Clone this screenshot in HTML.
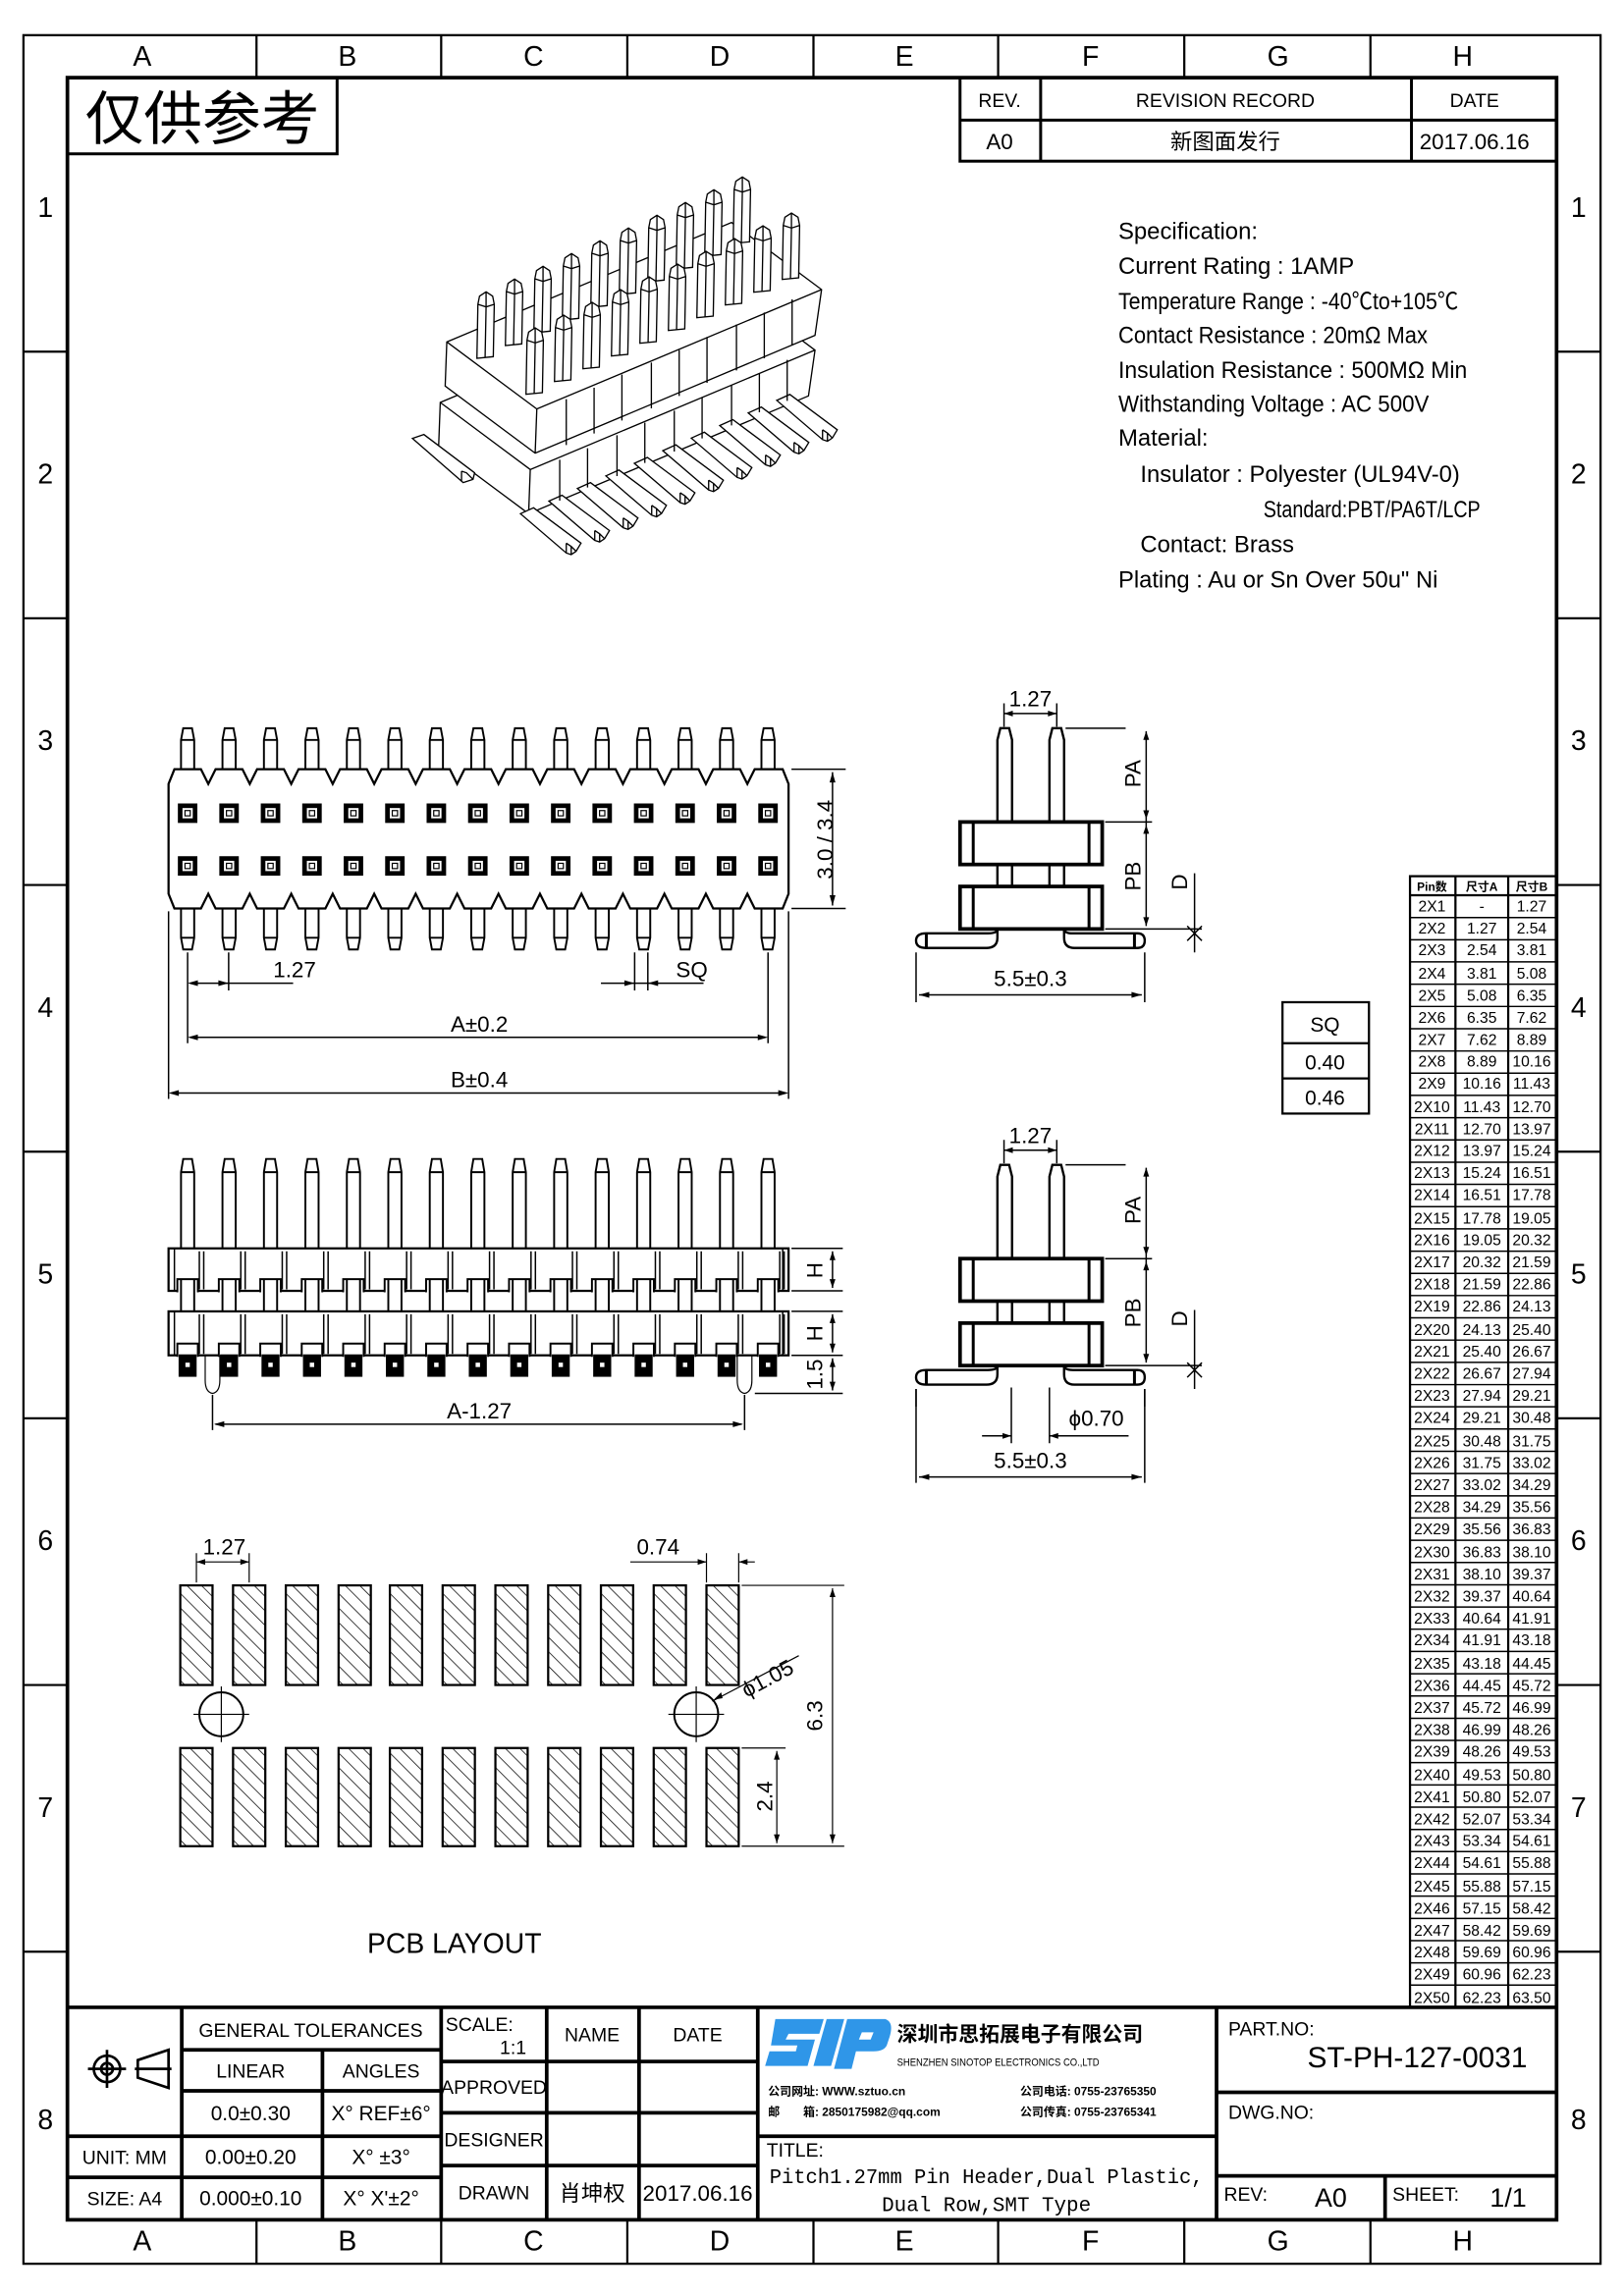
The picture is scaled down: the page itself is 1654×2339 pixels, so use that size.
<!DOCTYPE html>
<html><head><meta charset="utf-8">
<style>
html,body{margin:0;padding:0;background:#fff;}
svg{display:block;}
text{font-family:"Liberation Sans Narrow","Liberation Sans","Noto Sans CJK SC",sans-serif;fill:#000;}
.cj{font-family:"Liberation Sans","Noto Sans CJK SC",sans-serif;}
.mono{font-family:"Liberation Mono","Noto Sans CJK SC",monospace;}
</style></head>
<body>
<svg width="1654" height="2339" viewBox="0 0 1108 1567" preserveAspectRatio="none" xmlns="http://www.w3.org/2000/svg">
<defs>
<pattern id="hatch" patternUnits="userSpaceOnUse" width="7" height="7" patternTransform="rotate(-45)">
<line x1="0" y1="0" x2="0" y2="7" stroke="#000" stroke-width="1"/>
</pattern>
<g id="f1" fill="none" stroke="#000" stroke-width="1.3">
<path d="M-4.5,525 V505 L-3,497 H3 L4.5,505 V525 M-4.5,505 H4.5 M-4.5,620 V640 L-3,648 H3 L4.5,640 V620 M-4.5,640 H4.5"/>
<rect x="-6" y="549" width="12" height="12" fill="#000"/><rect x="-3.5" y="551.5" width="7" height="7" fill="#fff" stroke="none"/><rect x="-1.8" y="553.2" width="3.6" height="3.6" stroke-width=".8"/>
<rect x="-6" y="585" width="12" height="12" fill="#000"/><rect x="-3.5" y="587.5" width="7" height="7" fill="#fff" stroke="none"/><rect x="-1.8" y="589.2" width="3.6" height="3.6" stroke-width=".8"/>
</g>
<g id="f2" fill="none" stroke="#000" stroke-width="1.3">
<path d="M-4.5,852 V800 L-3,791 H3 L4.5,800 V852 M-4.5,800 H4.5"/>
<path d="M8,854 V880 M11,854 V880 M8,897 V924 M11,897 V924" stroke-width="1"/>
<path d="M-7,882 V873 H7 V882" fill="#fff"/>
<path d="M-4.5,873 V895 M4.5,873 V895"/>
<path d="M-7,926 V917 H7 V926" fill="#fff"/>
<rect x="-5.5" y="925" width="11" height="14" fill="#000"/><rect x="-1.5" y="930" width="3" height="3" fill="#fff" stroke="none"/>
</g>
<g id="pd"><rect x="-11" y="1082" width="22" height="68" fill="url(#hatch)" stroke="#000" stroke-width="1.5"/><rect x="-11" y="1193" width="22" height="67" fill="url(#hatch)" stroke="#000" stroke-width="1.5"/></g>
<g id="leg" fill="#fff" stroke="#000" stroke-width="4"><path d="M390,1090 L430,1072 L575,1180 L560,1205 L545,1215 L530,1210 Z M530,1180 L545,1190 L560,1205 M530,1180 L530,1210 M545,1190 V1215"/></g>
<g id="pin3" fill="#fff" stroke="#000" stroke-width="4"><path d="M-25,30 L-20,5 L0,-8 L20,5 L25,30 L22,190 L-28,195 Z M-25,30 L0,38 L25,30 M0,38 L-3,192 M0,38 V-8"/></g>
<g id="body3" fill="#fff" stroke="#000" stroke-width="4"><path d="M165,565 L160,700 L435,905 L1290,545 L1310,405 L1035,200 Z M165,565 L440,770 L1310,405 M440,770 L435,905"/></g>
</defs>

<rect x="0" y="0" width="1108" height="1567" fill="#fff"/>
<!-- borders -->
<rect x="16" y="24" width="1076" height="1521" fill="none" stroke="#000" stroke-width="1.5"/>
<rect x="46" y="53" width="1016" height="1462" fill="none" stroke="#000" stroke-width="2.5"/>
<g stroke="#000" stroke-width="1.5">
<line x1="175" y1="24" x2="175" y2="53"/><line x1="301" y1="24" x2="301" y2="53"/><line x1="428" y1="24" x2="428" y2="53"/><line x1="555" y1="24" x2="555" y2="53"/><line x1="681" y1="24" x2="681" y2="53"/><line x1="808" y1="24" x2="808" y2="53"/><line x1="935" y1="24" x2="935" y2="53"/>
<line x1="175" y1="1515" x2="175" y2="1545"/><line x1="301" y1="1515" x2="301" y2="1545"/><line x1="428" y1="1515" x2="428" y2="1545"/><line x1="555" y1="1515" x2="555" y2="1545"/><line x1="681" y1="1515" x2="681" y2="1545"/><line x1="808" y1="1515" x2="808" y2="1545"/><line x1="935" y1="1515" x2="935" y2="1545"/>
<line x1="16" y1="240" x2="46" y2="240"/><line x1="16" y1="422" x2="46" y2="422"/><line x1="16" y1="604" x2="46" y2="604"/><line x1="16" y1="786" x2="46" y2="786"/><line x1="16" y1="968" x2="46" y2="968"/><line x1="16" y1="1150" x2="46" y2="1150"/><line x1="16" y1="1332" x2="46" y2="1332"/>
<line x1="1062" y1="240" x2="1092" y2="240"/><line x1="1062" y1="422" x2="1092" y2="422"/><line x1="1062" y1="604" x2="1092" y2="604"/><line x1="1062" y1="786" x2="1092" y2="786"/><line x1="1062" y1="968" x2="1092" y2="968"/><line x1="1062" y1="1150" x2="1092" y2="1150"/><line x1="1062" y1="1332" x2="1092" y2="1332"/>
</g>
<g font-size="19" text-anchor="middle">
<text x="97" y="45">A</text><text x="237" y="45">B</text><text x="364" y="45">C</text><text x="491" y="45">D</text><text x="617" y="45">E</text><text x="744" y="45">F</text><text x="872" y="45">G</text><text x="998" y="45">H</text>
<text x="97" y="1536">A</text><text x="237" y="1536">B</text><text x="364" y="1536">C</text><text x="491" y="1536">D</text><text x="617" y="1536">E</text><text x="744" y="1536">F</text><text x="872" y="1536">G</text><text x="998" y="1536">H</text>
<text x="31" y="148">1</text><text x="31" y="330">2</text><text x="31" y="512">3</text><text x="31" y="694">4</text><text x="31" y="876">5</text><text x="31" y="1058">6</text><text x="31" y="1240">7</text><text x="31" y="1453">8</text>
<text x="1077" y="148">1</text><text x="1077" y="330">2</text><text x="1077" y="512">3</text><text x="1077" y="694">4</text><text x="1077" y="876">5</text><text x="1077" y="1058">6</text><text x="1077" y="1240">7</text><text x="1077" y="1453">8</text>
</g>

<!-- 仅供参考 -->
<rect x="46" y="53" width="184" height="52" fill="none" stroke="#000" stroke-width="2"/>
<text x="138" y="95" font-size="40" text-anchor="middle" class="cj">仅供参考</text>

<!-- revision -->
<g fill="none" stroke="#000" stroke-width="2">
<rect x="655" y="53" width="407" height="57"/><line x1="655" y1="82" x2="1062" y2="82"/>
<line x1="710" y1="53" x2="710" y2="110"/><line x1="963" y1="53" x2="963" y2="110"/>
</g>
<g font-size="13" text-anchor="middle">
<text x="682" y="73">REV.</text><text x="836" y="73">REVISION RECORD</text><text x="1006" y="73">DATE</text>
<text x="682" y="102" font-size="15">A0</text><text x="836" y="102" font-size="15" class="cj">新图面发行</text><text x="1006" y="102" font-size="15">2017.06.16</text>
</g>

<!-- spec -->
<g font-size="16">
<text x="763" y="163">Specification:</text>
<text x="763" y="187">Current Rating : 1AMP</text>
<text x="763" y="211" textLength="232" lengthAdjust="spacingAndGlyphs">Temperature Range : -40℃to+105℃</text>
<text x="763" y="234" textLength="211" lengthAdjust="spacingAndGlyphs">Contact Resistance : 20mΩ Max</text>
<text x="763" y="258" textLength="238" lengthAdjust="spacingAndGlyphs">Insulation Resistance : 500MΩ Min</text>
<text x="763" y="281" textLength="212" lengthAdjust="spacingAndGlyphs">Withstanding Voltage : AC 500V</text>
<text x="763" y="304">Material:</text>
<text x="778" y="329" textLength="218" lengthAdjust="spacingAndGlyphs">Insulator : Polyester (UL94V-0)</text>
<text x="862" y="353" textLength="148" lengthAdjust="spacingAndGlyphs">Standard:PBT/PA6T/LCP</text>
<text x="778" y="377">Contact: Brass</text>
<text x="763" y="401" textLength="218" lengthAdjust="spacingAndGlyphs">Plating : Au or Sn Over 50u" Ni</text>
</g>

<!-- 3D view -->
<g transform="translate(268,107.2) scale(0.2233)">
<use href="#body3" transform="translate(-20,185)"/>
<use href="#leg"/><use href="#leg" transform="translate(87,-38.5)"/><use href="#leg" transform="translate(174,-77)"/><use href="#leg" transform="translate(261,-115.5)"/><use href="#leg" transform="translate(348,-154)"/><use href="#leg" transform="translate(435,-192.5)"/><use href="#leg" transform="translate(522,-231)"/><use href="#leg" transform="translate(609,-269.5)"/><use href="#leg" transform="translate(696,-308)"/><use href="#leg" transform="translate(783,-346.5)"/>
<path d="M60,860 L95,848 L250,965 L245,985 L215,995 Z M210,960 L225,965 L245,985 M210,960 V990" fill="#fff" stroke="#000" stroke-width="4"/>
<use href="#body3"/>
<g stroke="#000" stroke-width="4" fill="none">
<path d="M530,740 V880 M615,705 V845 M700,665 V805 M790,628 V768 M875,590 V730 M960,550 V690 M1050,512 V652 M1135,475 V615 M1220,435 V575"/>
<path d="M510,925 V1050 M595,890 V1010 M685,850 V975 M770,812 V935 M860,775 V900 M945,735 V860 M1035,698 V820 M1120,660 V780 M1205,620 V745"/>
</g>
<use href="#pin3" x="285" y="420"/><use href="#pin3" x="372" y="381"/><use href="#pin3" x="459" y="342"/><use href="#pin3" x="546" y="303"/><use href="#pin3" x="633" y="264"/><use href="#pin3" x="720" y="225"/><use href="#pin3" x="807" y="186"/><use href="#pin3" x="894" y="147"/><use href="#pin3" x="981" y="108"/><use href="#pin3" x="1068" y="69"/>
<use href="#pin3" x="435" y="530"/><use href="#pin3" x="522" y="491"/><use href="#pin3" x="609" y="452"/><use href="#pin3" x="696" y="413"/><use href="#pin3" x="783" y="374"/><use href="#pin3" x="870" y="335"/><use href="#pin3" x="957" y="296"/><use href="#pin3" x="1044" y="257"/><use href="#pin3" x="1131" y="218"/><use href="#pin3" x="1218" y="179"/>
</g>

<!-- front view 1 -->
<path d="M115,535 L119,525 L137.1,525 L142.1,535 L147.1,525 L165.4,525 L170.4,535 L175.4,525 L193.7,525 L198.7,535 L203.7,525 L222,525 L227,535 L232,525 L250.3,525 L255.3,535 L260.3,525 L278.6,525 L283.6,535 L288.6,525 L306.9,525 L311.9,535 L316.9,525 L335.1,525 L340.1,535 L345.1,525 L363.4,525 L368.4,535 L373.4,525 L391.7,525 L396.7,535 L401.7,525 L420,525 L425,535 L430,525 L448.3,525 L453.3,535 L458.3,525 L476.6,525 L481.6,535 L486.6,525 L504.9,525 L509.9,535 L514.9,525 L534,525 L538,535 L538,610 L534,620 L514.9,620 L509.9,610 L504.9,620 L486.6,620 L481.6,610 L476.6,620 L458.3,620 L453.3,610 L448.3,620 L430,620 L425,610 L420,620 L401.7,620 L396.7,610 L391.7,620 L373.4,620 L368.4,610 L363.4,620 L345.1,620 L340.1,610 L335.1,620 L316.9,620 L311.9,610 L306.9,620 L288.6,620 L283.6,610 L278.6,620 L260.3,620 L255.3,610 L250.3,620 L232,620 L227,610 L222,620 L203.7,620 L198.7,610 L193.7,620 L175.4,620 L170.4,610 L165.4,620 L147.1,620 L142.1,610 L137.1,620 L119,620 L115,610 Z" fill="none" stroke="#000" stroke-width="1.5"/>
<use href="#f1" x="128"/><use href="#f1" x="156.29"/><use href="#f1" x="184.57"/><use href="#f1" x="212.86"/><use href="#f1" x="241.14"/><use href="#f1" x="269.43"/><use href="#f1" x="297.71"/><use href="#f1" x="326"/><use href="#f1" x="354.29"/><use href="#f1" x="382.57"/><use href="#f1" x="410.86"/><use href="#f1" x="439.14"/><use href="#f1" x="467.43"/><use href="#f1" x="495.71"/><use href="#f1" x="524"/>
<g stroke="#000" stroke-width="1" fill="none">
<path d="M540,525 H577 M540,620 H577 M568,527 V618"/>
<path d="M128,650 V712 M156,650 V676 M524,650 V712 M115,622 V750 M538,622 V750 M433,650 V676 M442,650 V676"/>
<path d="M130,671 H200 M410,671 H480 M130,708 H522 M117,746 H536"/>
</g>
<g fill="#000"><path d="M568,527 l-2,7 h4z M568,618 l-2,-7 h4z M128,671 l7,-2 v4z M156,671 l-7,-2 v4z M433,671 l-7,-2 v4z M442,671 l7,-2 v4z M128,708 l7,-2 v4z M524,708 l-7,-2 v4z M115,746 l7,-2 v4z M538,746 l-7,-2 v4z"/></g>
<g font-size="15" text-anchor="middle">
<text x="201" y="667">1.27</text><text x="472" y="667">SQ</text><text x="327" y="704">A±0.2</text><text x="327" y="742">B±0.4</text>
<text transform="translate(568,573) rotate(-90)">3.0 / 3.4</text>
</g>

<!-- front view 2 -->
<rect x="115" y="852" width="423" height="29" fill="#fff" stroke="#000" stroke-width="1.5"/>
<rect x="115" y="895" width="423" height="30" fill="#fff" stroke="#000" stroke-width="1.5"/>
<path d="M119,852 V881 M534,852 V881 M119,895 V925 M534,895 V925" stroke="#000" stroke-width="1"/>
<use href="#f2" x="128"/><use href="#f2" x="156.29"/><use href="#f2" x="184.57"/><use href="#f2" x="212.86"/><use href="#f2" x="241.14"/><use href="#f2" x="269.43"/><use href="#f2" x="297.71"/><use href="#f2" x="326"/><use href="#f2" x="354.29"/><use href="#f2" x="382.57"/><use href="#f2" x="410.86"/><use href="#f2" x="439.14"/><use href="#f2" x="467.43"/><use href="#f2" x="495.71"/><use href="#f2" x="524"/>
<g stroke="#000" stroke-width="0.8" fill="none">
<path d="M140,925 V942 Q140,950 145,951 Q150,950 150,942 V925 M503,925 V942 Q503,950 508,951 Q513,950 513,942 V925"/>
</g>
<g stroke="#000" stroke-width="1" fill="none">
<path d="M540,852 H575 M540,881 H575 M540,895 H575 M540,925 H575 M515,951 H575 M568,854 V879 M568,897 V923 M568,927 V949 M145,952 V976 M508,952 V976 M147,972 H506"/>
</g>
<g fill="#000"><path d="M568,854 l-2,6 h4z M568,879 l-2,-6 h4z M568,897 l-2,6 h4z M568,923 l-2,-6 h4z M568,927 l-2,6 h4z M568,949 l-2,-6 h4z M146,972 l7,-2 v4z M507,972 l-7,-2 v4z"/></g>
<g font-size="15" text-anchor="middle">
<text x="327" y="968">A-1.27</text>
<text transform="translate(561,867) rotate(-90)">H</text>
<text transform="translate(561,910) rotate(-90)">H</text>
<text transform="translate(561,938) rotate(-90)">1.5</text>
</g>

<!-- side view 1 & 2 -->
<g id="side">
<g fill="#fff" stroke="#000" stroke-width="2">
<path d="M680.5,561 V505 L682.5,497 H688.5 L690.5,505 V561 M716,561 V505 L718,497 H724 L726,505 V561" stroke-width="1.6"/>
<path d="M680.5,590 V605 M690.5,590 V605 M716,590 V605 M726,590 V605" stroke-width="1.6"/>
<path d="M680.5,634 V640 Q680.5,647 673,647 H632 Q625,647 625,642 Q625,637 632,637 H674 Q680.5,637 680.5,634 M726,634 V640 Q726,647 733,647 H776 Q781,647 781,642 Q781,637 776,637 H732 Q726,637 726,634" stroke-width="1.6"/>
<rect x="655" y="561" width="97" height="29" stroke-width="2.5"/>
<rect x="655" y="605" width="97" height="29" stroke-width="2.5"/>
<path d="M664,561 V590 M743,561 V590 M664,605 V634 M743,605 V634 M632,637 V647 M774,637 V647" stroke-width="2"/>
</g>
<g stroke="#000" stroke-width="1" fill="none">
<path d="M727,497 H768 M754,561 H786 M754,634 H820 M782,499 V632 M815,596 V650 M810,642 L820,632 M810,632 L820,642 M685,496 V480 M721,496 V480 M685,487 H721 M625,650 V684 M781,650 V684 M627,679 H779"/>
</g>
<g fill="#000"><path d="M782,499 l-2,6 h4z M782,559 l-2,-6 h4z M782,563 l-2,6 h4z M782,632 l-2,-6 h4z M685,487 l6,-2 v4z M721,487 l-6,-2 v4z M627,679 l7,-2 v4z M779,679 l-7,-2 v4z"/></g>
<g font-size="15" text-anchor="middle">
<text x="703" y="482">1.27</text><text x="703" y="673">5.5±0.3</text>
<text transform="translate(778,528) rotate(-90)">PA</text>
<text transform="translate(778,598) rotate(-90)">PB</text>
<text transform="translate(810,602) rotate(-90)">D</text>
</g>
</g>
<use href="#side" y="298"/>
<rect x="620" y="960" width="180" height="40" fill="#fff"/>
<rect x="620" y="968" width="180" height="40" fill="#fff"/>
<g stroke="#000" stroke-width="1" fill="none">
<path d="M625,948 V1012 M781,948 V1012 M627,1008 H779"/>
<path d="M690,947 V985 M716,947 V985 M670,980 H690 M716,980 H770"/>
</g>
<g fill="#000"><path d="M627,1008 l7,-2 v4z M779,1008 l-7,-2 v4z M690,980 l-6,-2 v4z M716,980 l6,-2 v4z"/></g>
<g font-size="15" text-anchor="middle"><text x="748" y="973">ϕ0.70</text><text x="703" y="1002">5.5±0.3</text></g>

<!-- SQ table -->
<g fill="none" stroke="#000" stroke-width="1.5"><rect x="875" y="684" width="59" height="76"/><line x1="875" y1="712" x2="934" y2="712"/><line x1="875" y1="736" x2="934" y2="736"/></g>
<g font-size="14" text-anchor="middle"><text x="904" y="704">SQ</text><text x="904" y="730">0.40</text><text x="904" y="754">0.46</text></g>

<!-- PCB layout -->
<use href="#pd" x="134"/><use href="#pd" x="170"/><use href="#pd" x="206"/><use href="#pd" x="242"/><use href="#pd" x="277"/><use href="#pd" x="313"/><use href="#pd" x="349"/><use href="#pd" x="385"/><use href="#pd" x="421"/><use href="#pd" x="457"/><use href="#pd" x="493"/>
<g stroke="#000" stroke-width="1.3" fill="#fff">
<circle cx="151" cy="1170" r="15"/><circle cx="475" cy="1170" r="15"/>
</g>
<g stroke="#000" stroke-width="0.8" fill="none">
<path d="M132,1170 H170 M151,1151 V1189 M456,1170 H494 M475,1151 V1189"/>
<path d="M134,1080 V1060 M170,1080 V1060 M134,1066 H170 M482,1080 V1060 M504,1080 V1060 M430,1066 H482 M504,1066 H515"/>
<path d="M506,1082 H576 M506,1260 H576 M506,1193 H536 M568,1084 V1258 M530,1195 V1258 M486,1161 L545,1130"/>
</g>
<g fill="#000"><path d="M134,1066 l6,-2 v4z M170,1066 l-6,-2 v4z M482,1066 l-6,-2 v4z M504,1066 l6,-2 v4z M568,1084 l-2,6 h4z M568,1258 l-2,-6 h4z M530,1195 l-2,6 h4z M530,1258 l-2,-6 h4z M487,1160 l5,-5 l1,4z"/></g>
<g font-size="15" text-anchor="middle">
<text x="153" y="1061">1.27</text><text x="449" y="1061">0.74</text>
<text transform="translate(526,1150) rotate(-28)">ϕ1.05</text>
<text transform="translate(561,1171) rotate(-90)">6.3</text>
<text transform="translate(527,1226) rotate(-90)">2.4</text>
<text x="310" y="1333" font-size="19">PCB LAYOUT</text>
</g>

<!-- Pin table -->
<g fill="none" stroke="#000" stroke-width="1.5">
<rect x="962" y="598" width="100" height="772"/>
<line x1="993" y1="598" x2="993" y2="1370"/><line x1="1029" y1="598" x2="1029" y2="1370"/>
<line x1="962" y1="611" x2="1062" y2="611"/>
</g>
<g stroke="#000" stroke-width="1">
<line x1="962" y1="626.2" x2="1062" y2="626.2"/><line x1="962" y1="641.4" x2="1062" y2="641.4"/><line x1="962" y1="656.5" x2="1062" y2="656.5"/><line x1="962" y1="671.7" x2="1062" y2="671.7"/><line x1="962" y1="686.9" x2="1062" y2="686.9"/><line x1="962" y1="702.1" x2="1062" y2="702.1"/><line x1="962" y1="717.3" x2="1062" y2="717.3"/><line x1="962" y1="732.4" x2="1062" y2="732.4"/><line x1="962" y1="747.6" x2="1062" y2="747.6"/><line x1="962" y1="762.8" x2="1062" y2="762.8"/>
<line x1="962" y1="778" x2="1062" y2="778"/><line x1="962" y1="793.2" x2="1062" y2="793.2"/><line x1="962" y1="808.3" x2="1062" y2="808.3"/><line x1="962" y1="823.5" x2="1062" y2="823.5"/><line x1="962" y1="838.7" x2="1062" y2="838.7"/><line x1="962" y1="853.9" x2="1062" y2="853.9"/><line x1="962" y1="869.1" x2="1062" y2="869.1"/><line x1="962" y1="884.2" x2="1062" y2="884.2"/><line x1="962" y1="899.4" x2="1062" y2="899.4"/><line x1="962" y1="914.6" x2="1062" y2="914.6"/>
<line x1="962" y1="929.8" x2="1062" y2="929.8"/><line x1="962" y1="945" x2="1062" y2="945"/><line x1="962" y1="960.1" x2="1062" y2="960.1"/><line x1="962" y1="975.3" x2="1062" y2="975.3"/><line x1="962" y1="990.5" x2="1062" y2="990.5"/><line x1="962" y1="1005.7" x2="1062" y2="1005.7"/><line x1="962" y1="1020.9" x2="1062" y2="1020.9"/><line x1="962" y1="1036" x2="1062" y2="1036"/><line x1="962" y1="1051.2" x2="1062" y2="1051.2"/><line x1="962" y1="1066.4" x2="1062" y2="1066.4"/>
<line x1="962" y1="1081.6" x2="1062" y2="1081.6"/><line x1="962" y1="1096.8" x2="1062" y2="1096.8"/><line x1="962" y1="1111.9" x2="1062" y2="1111.9"/><line x1="962" y1="1127.1" x2="1062" y2="1127.1"/><line x1="962" y1="1142.3" x2="1062" y2="1142.3"/><line x1="962" y1="1157.5" x2="1062" y2="1157.5"/><line x1="962" y1="1172.7" x2="1062" y2="1172.7"/><line x1="962" y1="1187.8" x2="1062" y2="1187.8"/><line x1="962" y1="1203" x2="1062" y2="1203"/><line x1="962" y1="1218.2" x2="1062" y2="1218.2"/>
<line x1="962" y1="1233.4" x2="1062" y2="1233.4"/><line x1="962" y1="1248.6" x2="1062" y2="1248.6"/><line x1="962" y1="1263.7" x2="1062" y2="1263.7"/><line x1="962" y1="1278.9" x2="1062" y2="1278.9"/><line x1="962" y1="1294.1" x2="1062" y2="1294.1"/><line x1="962" y1="1309.3" x2="1062" y2="1309.3"/><line x1="962" y1="1324.5" x2="1062" y2="1324.5"/><line x1="962" y1="1339.6" x2="1062" y2="1339.6"/><line x1="962" y1="1354.8" x2="1062" y2="1354.8"/>
</g>
<g font-size="10" text-anchor="middle" font-weight="bold" class="cj">
<text x="977" y="608" font-size="8">Pin数</text><text x="1011" y="608" font-size="8">尺寸A</text><text x="1045" y="608" font-size="8">尺寸B</text>
</g>
<g font-size="10.5" text-anchor="middle">
<text x="977" y="622">2X1</text><text x="1011" y="622">-</text><text x="1045" y="622">1.27</text>
<text x="977" y="637">2X2</text><text x="1011" y="637">1.27</text><text x="1045" y="637">2.54</text>
<text x="977" y="652">2X3</text><text x="1011" y="652">2.54</text><text x="1045" y="652">3.81</text>
<text x="977" y="668">2X4</text><text x="1011" y="668">3.81</text><text x="1045" y="668">5.08</text>
<text x="977" y="683">2X5</text><text x="1011" y="683">5.08</text><text x="1045" y="683">6.35</text>
<text x="977" y="698">2X6</text><text x="1011" y="698">6.35</text><text x="1045" y="698">7.62</text>
<text x="977" y="713">2X7</text><text x="1011" y="713">7.62</text><text x="1045" y="713">8.89</text>
<text x="977" y="728">2X8</text><text x="1011" y="728">8.89</text><text x="1045" y="728">10.16</text>
<text x="977" y="743">2X9</text><text x="1011" y="743">10.16</text><text x="1045" y="743">11.43</text>
<text x="977" y="759">2X10</text><text x="1011" y="759">11.43</text><text x="1045" y="759">12.70</text>
<text x="977" y="774">2X11</text><text x="1011" y="774">12.70</text><text x="1045" y="774">13.97</text>
<text x="977" y="789">2X12</text><text x="1011" y="789">13.97</text><text x="1045" y="789">15.24</text>
<text x="977" y="804">2X13</text><text x="1011" y="804">15.24</text><text x="1045" y="804">16.51</text>
<text x="977" y="819">2X14</text><text x="1011" y="819">16.51</text><text x="1045" y="819">17.78</text>
<text x="977" y="835">2X15</text><text x="1011" y="835">17.78</text><text x="1045" y="835">19.05</text>
<text x="977" y="850">2X16</text><text x="1011" y="850">19.05</text><text x="1045" y="850">20.32</text>
<text x="977" y="865">2X17</text><text x="1011" y="865">20.32</text><text x="1045" y="865">21.59</text>
<text x="977" y="880">2X18</text><text x="1011" y="880">21.59</text><text x="1045" y="880">22.86</text>
<text x="977" y="895">2X19</text><text x="1011" y="895">22.86</text><text x="1045" y="895">24.13</text>
<text x="977" y="911">2X20</text><text x="1011" y="911">24.13</text><text x="1045" y="911">25.40</text>
<text x="977" y="926">2X21</text><text x="1011" y="926">25.40</text><text x="1045" y="926">26.67</text>
<text x="977" y="941">2X22</text><text x="1011" y="941">26.67</text><text x="1045" y="941">27.94</text>
<text x="977" y="956">2X23</text><text x="1011" y="956">27.94</text><text x="1045" y="956">29.21</text>
<text x="977" y="971">2X24</text><text x="1011" y="971">29.21</text><text x="1045" y="971">30.48</text>
<text x="977" y="987">2X25</text><text x="1011" y="987">30.48</text><text x="1045" y="987">31.75</text>
<text x="977" y="1002">2X26</text><text x="1011" y="1002">31.75</text><text x="1045" y="1002">33.02</text>
<text x="977" y="1017">2X27</text><text x="1011" y="1017">33.02</text><text x="1045" y="1017">34.29</text>
<text x="977" y="1032">2X28</text><text x="1011" y="1032">34.29</text><text x="1045" y="1032">35.56</text>
<text x="977" y="1047">2X29</text><text x="1011" y="1047">35.56</text><text x="1045" y="1047">36.83</text>
<text x="977" y="1063">2X30</text><text x="1011" y="1063">36.83</text><text x="1045" y="1063">38.10</text>
<text x="977" y="1078">2X31</text><text x="1011" y="1078">38.10</text><text x="1045" y="1078">39.37</text>
<text x="977" y="1093">2X32</text><text x="1011" y="1093">39.37</text><text x="1045" y="1093">40.64</text>
<text x="977" y="1108">2X33</text><text x="1011" y="1108">40.64</text><text x="1045" y="1108">41.91</text>
<text x="977" y="1123">2X34</text><text x="1011" y="1123">41.91</text><text x="1045" y="1123">43.18</text>
<text x="977" y="1139">2X35</text><text x="1011" y="1139">43.18</text><text x="1045" y="1139">44.45</text>
<text x="977" y="1154">2X36</text><text x="1011" y="1154">44.45</text><text x="1045" y="1154">45.72</text>
<text x="977" y="1169">2X37</text><text x="1011" y="1169">45.72</text><text x="1045" y="1169">46.99</text>
<text x="977" y="1184">2X38</text><text x="1011" y="1184">46.99</text><text x="1045" y="1184">48.26</text>
<text x="977" y="1199">2X39</text><text x="1011" y="1199">48.26</text><text x="1045" y="1199">49.53</text>
<text x="977" y="1215">2X40</text><text x="1011" y="1215">49.53</text><text x="1045" y="1215">50.80</text>
<text x="977" y="1230">2X41</text><text x="1011" y="1230">50.80</text><text x="1045" y="1230">52.07</text>
<text x="977" y="1245">2X42</text><text x="1011" y="1245">52.07</text><text x="1045" y="1245">53.34</text>
<text x="977" y="1260">2X43</text><text x="1011" y="1260">53.34</text><text x="1045" y="1260">54.61</text>
<text x="977" y="1275">2X44</text><text x="1011" y="1275">54.61</text><text x="1045" y="1275">55.88</text>
<text x="977" y="1291">2X45</text><text x="1011" y="1291">55.88</text><text x="1045" y="1291">57.15</text>
<text x="977" y="1306">2X46</text><text x="1011" y="1306">57.15</text><text x="1045" y="1306">58.42</text>
<text x="977" y="1321">2X47</text><text x="1011" y="1321">58.42</text><text x="1045" y="1321">59.69</text>
<text x="977" y="1336">2X48</text><text x="1011" y="1336">59.69</text><text x="1045" y="1336">60.96</text>
<text x="977" y="1351">2X49</text><text x="1011" y="1351">60.96</text><text x="1045" y="1351">62.23</text>
<text x="977" y="1367">2X50</text><text x="1011" y="1367">62.23</text><text x="1045" y="1367">63.50</text>
</g>

<!-- title block -->
<g fill="none" stroke="#000" stroke-width="2.5">
<line x1="46" y1="1370" x2="1062" y2="1370"/>
<line x1="124" y1="1370" x2="124" y2="1515"/><line x1="220" y1="1399" x2="220" y2="1515"/>
<line x1="301" y1="1370" x2="301" y2="1515"/><line x1="373" y1="1370" x2="373" y2="1515"/><line x1="436" y1="1370" x2="436" y2="1515"/>
<line x1="517" y1="1370" x2="517" y2="1515"/><line x1="830" y1="1370" x2="830" y2="1515"/>
<line x1="124" y1="1399" x2="301" y2="1399"/><line x1="124" y1="1427" x2="301" y2="1427"/>
<line x1="46" y1="1458" x2="301" y2="1458"/><line x1="46" y1="1486" x2="301" y2="1486"/>
<line x1="301" y1="1407" x2="517" y2="1407"/><line x1="301" y1="1442" x2="517" y2="1442"/><line x1="301" y1="1478" x2="517" y2="1478"/>
<line x1="517" y1="1458" x2="830" y2="1458"/>
<line x1="830" y1="1428" x2="1062" y2="1428"/><line x1="830" y1="1485" x2="1062" y2="1485"/>
<line x1="945" y1="1485" x2="945" y2="1515"/>
</g>
<!-- symbol -->
<g fill="none" stroke="#000" stroke-width="1.8">
<circle cx="73" cy="1412" r="9"/><circle cx="73" cy="1412" r="4"/><path d="M60,1412 H86 M73,1399 V1425"/>
<path d="M92,1412 H117 M94,1406 L115,1399 V1425 L94,1418 Z M115,1399 V1425"/>
</g>
<g font-size="13" text-anchor="middle">
<text x="212" y="1390">GENERAL TOLERANCES</text>
<text x="171" y="1418">LINEAR</text><text x="260" y="1418">ANGLES</text>
<text x="171" y="1447" font-size="14">0.0±0.30</text><text x="260" y="1447" font-size="14">X° REF±6°</text>
<text x="85" y="1477">UNIT: MM</text><text x="171" y="1477" font-size="14">0.00±0.20</text><text x="260" y="1477" font-size="14">X° ±3°</text>
<text x="85" y="1505">SIZE: A4</text><text x="171" y="1505" font-size="14">0.000±0.10</text><text x="260" y="1505" font-size="14">X° X'±2°</text>
<text x="404" y="1393">NAME</text><text x="476" y="1393">DATE</text>
<text x="337" y="1429">APPROVED</text><text x="337" y="1465">DESIGNER</text><text x="337" y="1501">DRAWN</text>
<text x="404" y="1502" font-size="15" class="cj">肖坤权</text><text x="476" y="1502" font-size="15">2017.06.16</text>
</g>
<text x="304" y="1386" font-size="13">SCALE:</text><text x="341" y="1402" font-size="13">1:1</text>
<!-- logo -->
<g fill="#2f96e8">
<path d="M529,1378 H562 L559,1388 H538 L536,1392 H556 L551,1410 H522 L525,1400 H543 L544,1396 H526 Z"/>
<path d="M564,1378 H576 L567,1410 H555 Z"/>
<path d="M578,1378 H604 Q610,1380 607,1390 L605,1396 Q603,1400 596,1400 H584 L581,1412 H569 Z M588,1387 L586,1392 H594 L596,1387 Z" fill-rule="evenodd"/>
</g>
<text x="612" y="1393" font-size="14" class="cj" font-weight="bold">深圳市思拓展电子有限公司</text>
<text x="612" y="1410" font-size="7.5" textLength="138" lengthAdjust="spacingAndGlyphs">SHENZHEN SINOTOP ELECTRONICS CO.,LTD</text>
<g font-size="8" class="cj" font-weight="bold">
<text x="524" y="1430">公司网址: WWW.sztuo.cn</text>
<text x="524" y="1444">邮　　箱: 2850175982@qq.com</text>
<text x="696" y="1430">公司电话: 0755-23765350</text>
<text x="696" y="1444">公司传真: 0755-23765341</text>
</g>
<text x="523" y="1472" font-size="13">TITLE:</text>
<text x="673" y="1490" font-size="14" text-anchor="middle" class="mono" textLength="296" lengthAdjust="spacingAndGlyphs">Pitch1.27mm Pin Header,Dual Plastic,</text>
<text x="673" y="1509" font-size="14" text-anchor="middle" class="mono">Dual Row,SMT Type</text>
<text x="838" y="1389" font-size="13">PART.NO:</text>
<text x="967" y="1411" font-size="20" text-anchor="middle">ST-PH-127-0031</text>
<text x="838" y="1446" font-size="13">DWG.NO:</text>
<text x="835" y="1502" font-size="13">REV:</text><text x="908" y="1506" font-size="18" text-anchor="middle">A0</text>
<text x="950" y="1502" font-size="13">SHEET:</text><text x="1029" y="1506" font-size="18" text-anchor="middle">1/1</text>
</svg>
</body></html>
